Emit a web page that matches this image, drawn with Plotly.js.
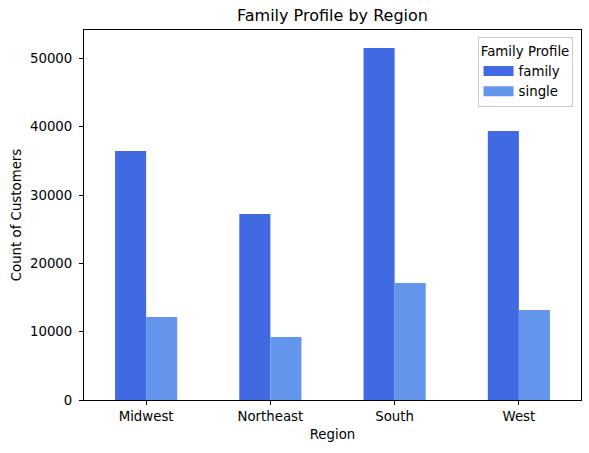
<!DOCTYPE html>
<html><head><meta charset="utf-8">
<script src="https://cdn.plot.ly/plotly-3.0.1.min.js"></script>
<style>body{margin:0;padding:0;background:#fff}#chart{width:589px;height:453px}</style>
</head><body><div id="chart"></div>
<script>
const regions = ["Midwest", "Northeast", "South", "West"];
const familyCounts = [36450, 27230, 51540, 39390];
const singleCounts = [12150, 9220, 17130, 13180];
const seriesNames = ["family", "single"];
const colors = ["#4169E1", "#6495ED"];

const font = {family: "DejaVu Sans, sans-serif", size: 13.33, color: "#000"};
const data = [
  {type: "bar", name: seriesNames[0], x: regions, y: familyCounts, marker: {color: colors[0], line: {width: 0}}, showlegend: false},
  {type: "bar", name: seriesNames[1], x: regions, y: singleCounts, marker: {color: colors[1], line: {width: 0}}, showlegend: false},
  {type: "scatter", mode: "lines", name: seriesNames[0], x: [null], y: [null], line: {color: colors[0], width: 10}, hoverinfo: "skip"},
  {type: "scatter", mode: "lines", name: seriesNames[1], x: [null], y: [null], line: {color: colors[1], width: 10}, hoverinfo: "skip"}
];
const layout = {
  width: 589, height: 453,
  margin: {l: 84, r: 8, t: 30, b: 53},
  paper_bgcolor: "#fff", plot_bgcolor: "#fff",
  font: font,
  barmode: "group", bargap: 0.5, bargroupgap: 0,
  title: {text: "Family Profile by Region", font: {family: font.family, size: 16, color: "#000"}, xref: "paper", x: 0.5, xanchor: "center", y: 0.965, yanchor: "middle"},
  xaxis: {
    title: {text: "Region", font: {size: 13.33}, standoff: 6},
    range: [-0.5, 3.5], showline: true, linecolor: "#000", linewidth: 1, mirror: true,
    ticks: "outside", ticklen: 4, tickcolor: "#000", showgrid: false, zeroline: false,
    tickfont: {size: 13.33}
  },
  yaxis: {
    title: {text: "Count of Customers", font: {size: 13.33}, standoff: 5},
    range: [0, 54170], tickvals: [0, 10000, 20000, 30000, 40000, 50000],
    ticktext: ["0", "10000", "20000", "30000", "40000", "50000"],
    showline: true, linecolor: "#000", linewidth: 1, mirror: true,
    ticks: "outside", ticklen: 4, tickcolor: "#000", showgrid: false, zeroline: false,
    tickfont: {size: 13.33}, ticklabelstandoff: 4
  },
  legend: {
    title: {text: "Family Profile", font: {size: 13.33}, side: "top center"},
    x: 0.983, xanchor: "right", y: 0.98, yanchor: "top",
    bordercolor: "#ccc", borderwidth: 1, bgcolor: "rgba(255,255,255,0.8)",
    font: {size: 13.33}, tracegroupgap: 2, itemwidth: 30
  },
  showlegend: true
};
Plotly.newPlot("chart", data, layout, {displayModeBar: false, staticPlot: true});
</script></body></html>
